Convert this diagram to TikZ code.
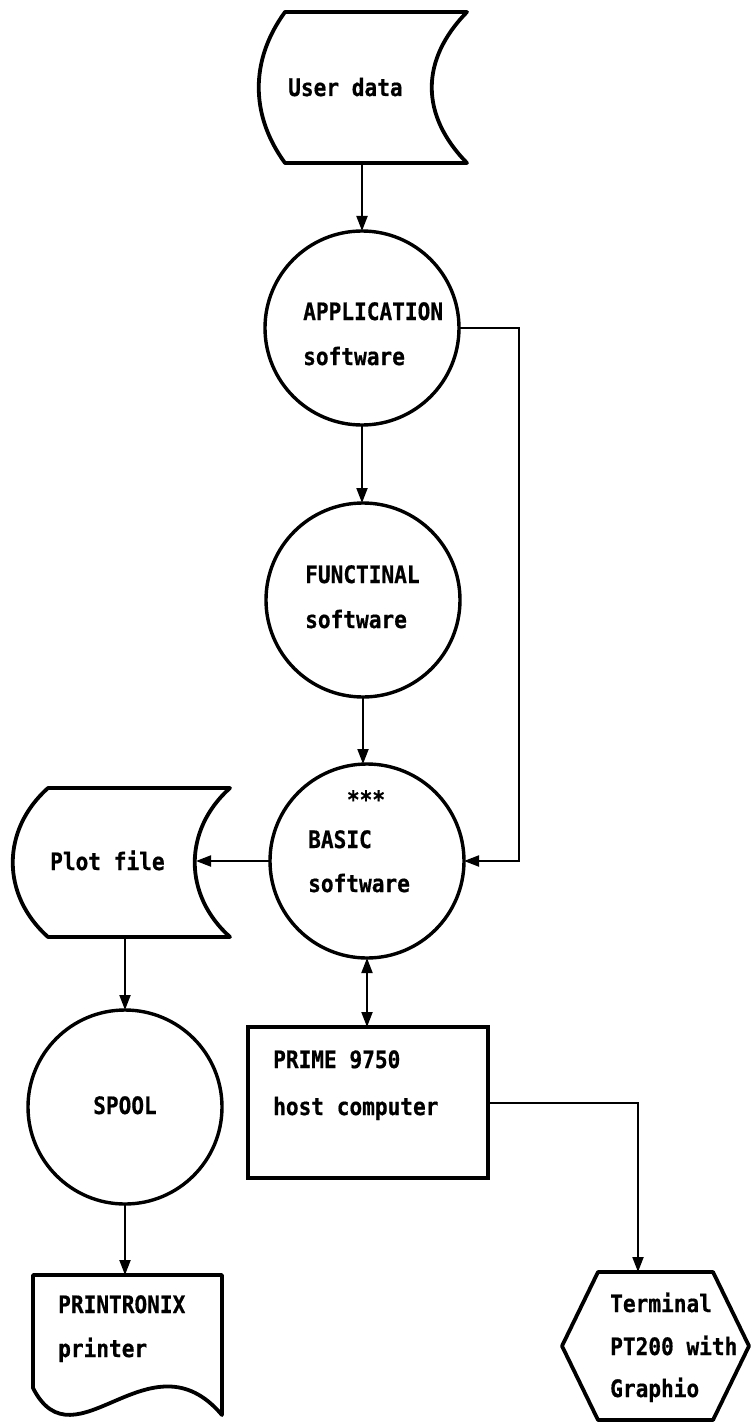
\documentclass[tikz,border=0pt]{standalone}
\usepackage{fontspec}
\newfontfamily\dotfont{DejaVu Sans Mono}[FakeStretch=0.88, BoldFeatures={FakeBold=0.6}]
\usetikzlibrary{arrows.meta}
\begin{document}
\begin{tikzpicture}[x=1pt,y=-1pt,
  shapeline/.style={line width=3.8pt, line join=round},
  conn/.style={line width=2pt},
  arr/.style={conn, -{Triangle[length=15pt,width=11pt]}},
  darr/.style={conn, {Triangle[length=15pt,width=11pt]}-{Triangle[length=15pt,width=11pt]}},
  anchorbox/.style={draw=none, rectangle, inner sep=0pt, outer sep=0pt},
  bubble/.style={draw, circle, line width=3.4pt, minimum size=194pt, inner sep=0pt, outer sep=0pt},
  lbl/.style={inner sep=0pt, anchor=base west, font=\dotfont\bfseries\fontsize{24}{24}\selectfont}
]
\useasboundingbox (0,0) rectangle (751,1423);

% ---- custom outlines ----
% User data (stored data)
\draw[shapeline] (285,12) -- (467,12) .. controls (420,60) and (420,115) .. (467,163)
  -- (285,163) .. controls (250,115) and (250,60) .. (285,12) -- cycle;
\node[anchorbox, minimum width=205pt, minimum height=151pt] (ud) at (364.5,87.5) {};
% Plot file (stored data)
\draw[shapeline] (48,788) -- (230,788) .. controls (183,830) and (183,895) .. (230,937)
  -- (48,937) .. controls (1,895) and (1,830) .. (48,788) -- cycle;
\node[anchorbox, minimum width=183pt, minimum height=149pt] (pf) at (104.5,862.5) {};
% PRINTRONIX (document)
\draw[shapeline] (33,1275) -- (222,1275) -- (222,1415) .. controls (150,1330) and (75,1470) .. (33,1388) -- cycle;
\node[anchorbox, minimum width=189pt, minimum height=145pt] (prn) at (127.5,1347.5) {};
% Terminal (hexagon display)
\draw[shapeline] (598,1272) -- (713,1272) -- (749,1346) -- (713,1420) -- (598,1420) -- (562,1346) -- cycle;
\node[anchorbox, minimum width=187pt, minimum height=148pt] (term) at (655.5,1346) {};
% PRIME box
\node[draw, rectangle, line width=3.8pt, minimum width=240pt, minimum height=151pt, inner sep=0pt, outer sep=0pt] (prime) at (368,1102.5) {};

% ---- circles ----
\node[bubble] (app) at (362,328) {};
\node[bubble] (func) at (363,600) {};
\node[bubble] (basic) at (367,861) {};
\node[bubble] (spool) at (125,1107) {};

% ---- texts ----
\node[lbl] (tud) at (288,96) {User data};
\node[lbl] (tapp1) at (303,320) {APPLICATION};
\node[lbl] (tapp2) at (303,365) {software};
\node[lbl] (tfun1) at (305,583) {FUNCTINAL};
\node[lbl] (tfun2) at (305,628) {software};
\node[lbl, anchor=base] (tbas0) at (366,808) {***};
\node[lbl] (tbas1) at (308,848) {BASIC};
\node[lbl] (tbas2) at (308,892) {software};
\node[lbl] (tpf) at (50,870) {Plot file};
\node[lbl] (tsp) at (93,1114) {SPOOL};
\node[lbl] (tpr1) at (273,1068) {PRIME 9750};
\node[lbl] (tpr2) at (273,1115) {host computer};
\node[lbl] (tprn1) at (58,1313) {PRINTRONIX};
\node[lbl] (tprn2) at (58,1357) {printer};
\node[lbl] (tt1) at (610,1312) {Terminal};
\node[lbl] (tt2) at (610,1355) {PT200 with};
\node[lbl] (tt3) at (610,1397) {Graphio};

% ---- connectors ----
\coordinate (rt) at (519,0);
\coordinate (tx) at (638,0);
\draw[arr] (app.north |- ud.south) -- (app.north);
\draw[arr] (app.south) -- (app.south |- func.north);
\draw[arr] (func.south) -- (func.south |- basic.north);
\draw[arr] (app.east) -- (app.east -| rt) -- (basic.east -| rt) -- (basic.east);
\draw[arr] (basic.west) -- (basic.west -| pf.east);
\draw[arr] (spool.north |- pf.south) -- (spool.north);
\draw[arr] (spool.south) -- (spool.south |- prn.north);
\draw[darr] (basic.south) -- (basic.south |- prime.north);
\draw[arr] (prime.east) -- (prime.east -| tx) -- (tx |- term.north);
\end{tikzpicture}
\end{document}
